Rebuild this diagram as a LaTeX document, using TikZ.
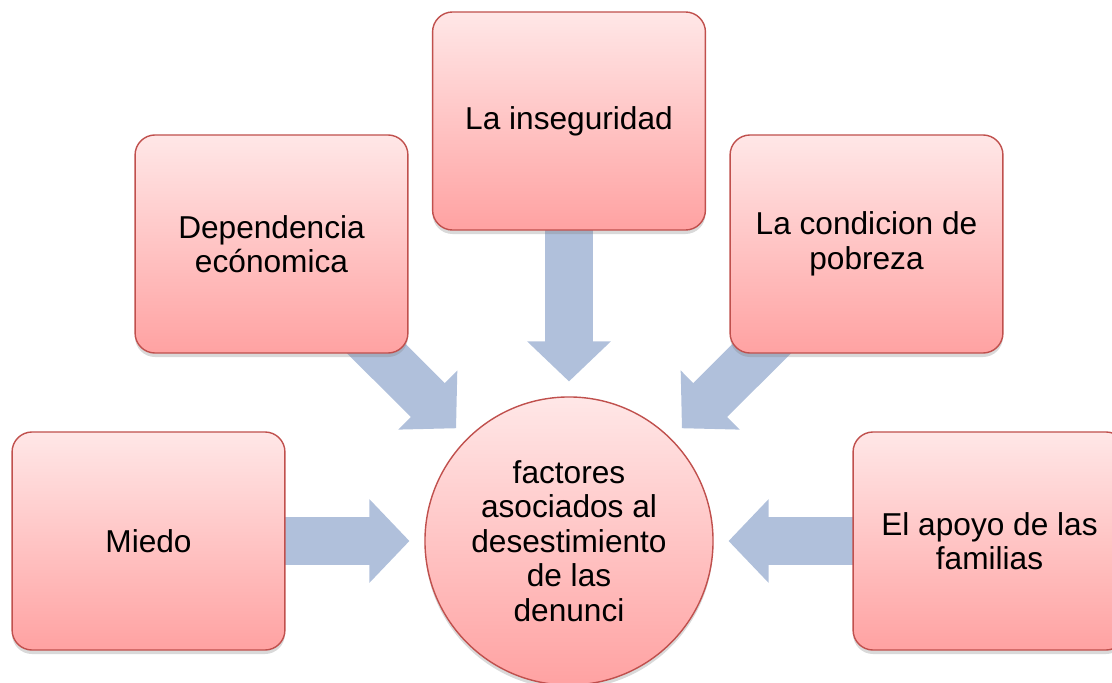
\documentclass[tikz,border=0pt]{standalone}
\usepackage{fontspec}
\setmainfont{Liberation Sans}
\usetikzlibrary{arrows.meta, shadows}

\definecolor{boxtop}{HTML}{FFE7E7}
\definecolor{boxbottom}{HTML}{FFA2A2}
\definecolor{boxborder}{HTML}{C0504D}
\definecolor{arrowblue}{HTML}{B0C0DB}

\pgfdeclarelayer{background}
\pgfsetlayers{background,main}

\begin{document}
\begin{tikzpicture} [x=0.025cm, y=-0.025cm,
		% define styles
		factornodestyle/.style={
			% The shape:
			rectangle,
			% The size:
			minimum width=6.82cm,
			minimum height=5.45cm,
			% The border:
			draw=boxborder,
			line width=1pt,
			% The filling:
			top color=boxtop, % light at the top...
			bottom color=boxbottom, % and stronger at the bottom
			% Corners
			rounded corners=0.5cm,
			% Shadow
			drop shadow={shadow xshift=0pt, shadow yshift=-0.1cm, opacity=0.3},
			% Font
			align=center,
			font=\fontsize{22.5}{24.5}\selectfont
		},
		centernodestyle/.style={
			% The shape:
			circle,
			% The size:
			minimum size=7.2cm,
			% The border:
			draw=boxborder,
			line width=1pt,
			% The filling:
			top color=boxtop,
			bottom color=boxbottom,
			% Shadow
			drop shadow={shadow xshift=0pt, shadow yshift=-0.1cm, opacity=0.3},
			% Font
			align=center,
			font=\fontsize{22.5}{24.5}\selectfont
		},
		blockarrow/.style={
			-{Triangle[length=1cm, width=2.03cm]},
			% Thickness
			line width=1.2cm,
			% Color
			arrowblue,
			shorten >=0.37cm
		}]
		% end of style definition

		\clip (0,0) rectangle (1112,683);

		% draw nodes
		\node (iCenter) [centernodestyle] at (569,541) {factores\\asociados al\\desestimiento\\de las\\denunci};
		\node (iInseguridad) [factornodestyle] at (569,121) {La inseguridad};
		\node (iDependencia) [factornodestyle] at (271.5,244) {Dependencia\\ecónomica};
		\node (iPobreza) [factornodestyle] at (866.5,244) {La condicion de\\pobreza};
		\node (iMiedo) [factornodestyle] at (148.5,541) {Miedo};
		\node (iApoyo) [factornodestyle] at (989.5,541) {El apoyo de las\\familias};

		% connect nodes
		\begin{pgfonlayer}{background}
			\draw [blockarrow] (iInseguridad.center) -- (iCenter);
			\draw [blockarrow] (iDependencia.center) -- (iCenter);
			\draw [blockarrow] (iPobreza.center) -- (iCenter);
			\draw [blockarrow] (iMiedo.center) -- (iCenter);
			\draw [blockarrow] (iApoyo.center) -- (iCenter);
		\end{pgfonlayer}
	\end{tikzpicture}
\end{document}
